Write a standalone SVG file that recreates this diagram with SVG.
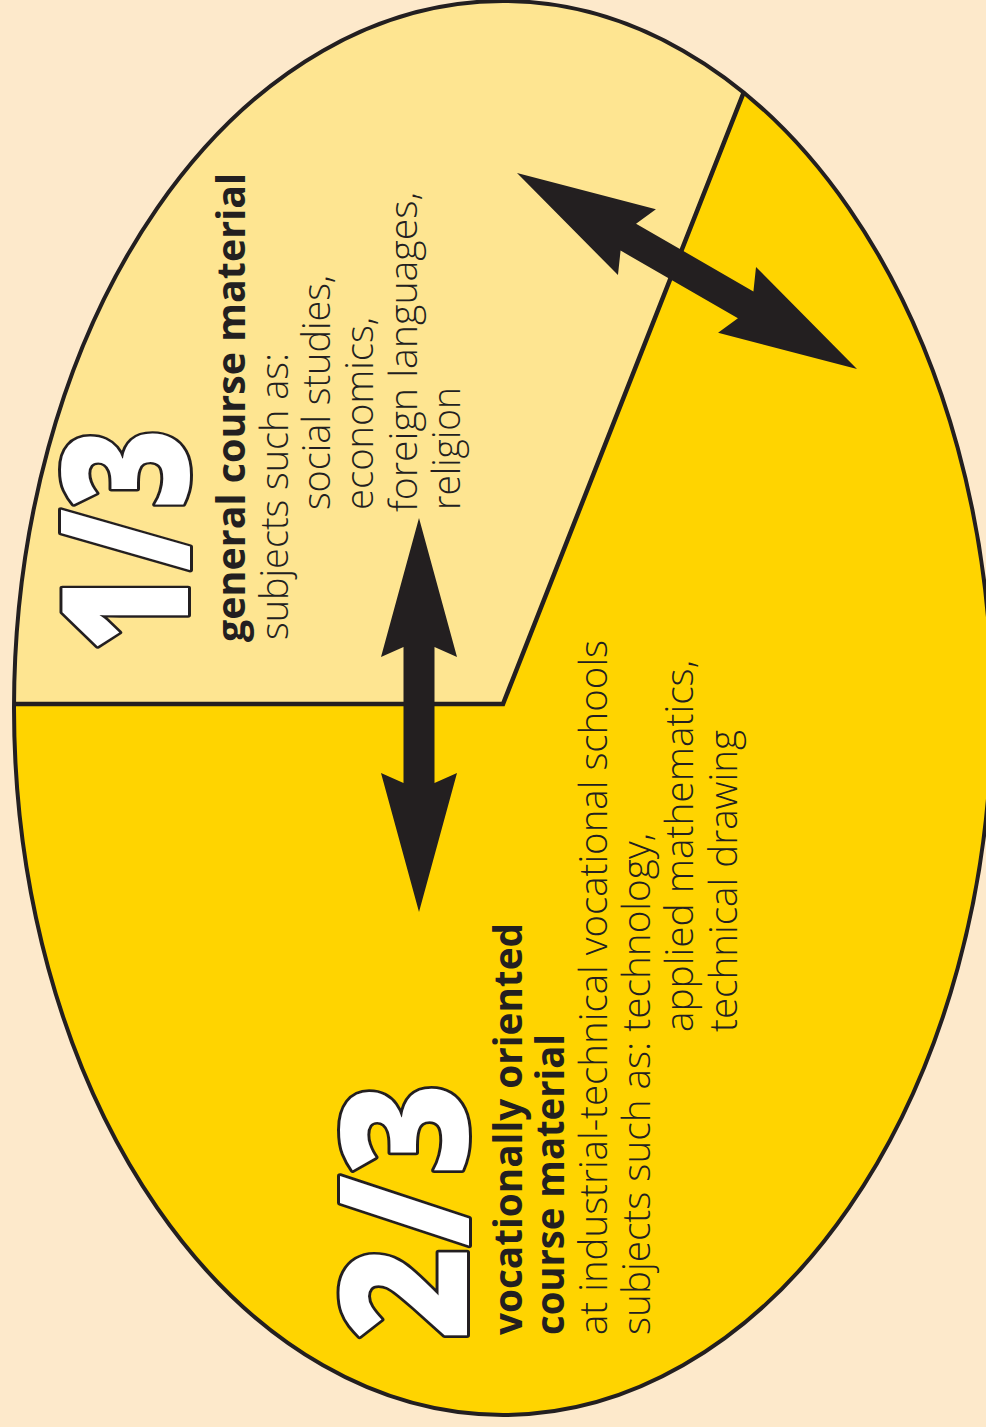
<svg xmlns="http://www.w3.org/2000/svg" width="986" height="1427" viewBox="0 0 986 1427">
<style>
.t{font-family:"Open Sans","Liberation Sans",sans-serif;fill:#231F20;font-size:39px;font-weight:300}
.b{font-weight:700}
.big{font-family:"Open Sans","DejaVu Sans",sans-serif;font-weight:800;font-size:176px;fill:#FFFFFF;stroke:#231F20;stroke-width:6;paint-order:stroke;stroke-linejoin:round}
.arrow{fill:#231F20}
</style>
<defs>
<clipPath id="ell"><ellipse cx="503" cy="708" rx="489" ry="707"/></clipPath>
<polygon id="dbl" points="0,0 139,-38 129,-15.5 265,-15.5 255,-38 394,0 255,38 265,15.5 129,15.5 139,38"/>
</defs>
<rect x="0" y="0" width="986" height="1427" fill="#FDE9CB"/>
<g id="pie">
<ellipse cx="503" cy="708" rx="489" ry="707" fill="#FFD400"/>
<polygon points="0,704 503,704 784,-10 0,-10" fill="#FEE591" clip-path="url(#ell)"/>
<polyline points="0,704 503,704 784,-10" fill="none" stroke="#231F20" stroke-width="4.5" stroke-linejoin="miter" clip-path="url(#ell)"/>
<ellipse cx="503" cy="708" rx="489" ry="707" fill="none" stroke="#231F20" stroke-width="4"/>
</g>
<g id="general">
<text class="big" transform="translate(188,652) rotate(-90)" textLength="224" lengthAdjust="spacingAndGlyphs">1/3</text>
<text class="t b" transform="translate(245,642) rotate(-90)" textLength="469" lengthAdjust="spacingAndGlyphs">general course material</text>
<text class="t" transform="translate(288,640) rotate(-90)" textLength="287" lengthAdjust="spacingAndGlyphs">subjects such as:</text>
<text class="t" transform="translate(330,510) rotate(-90)" textLength="235" lengthAdjust="spacingAndGlyphs">social studies,</text>
<text class="t" transform="translate(373,510) rotate(-90)" textLength="193" lengthAdjust="spacingAndGlyphs">economics,</text>
<text class="t" transform="translate(417,512) rotate(-90)" textLength="320" lengthAdjust="spacingAndGlyphs">foreign languages,</text>
<text class="t" transform="translate(460,510) rotate(-90)" textLength="123" lengthAdjust="spacingAndGlyphs">religion</text>
</g>
<g id="vocational">
<text class="big" transform="translate(467,1340) rotate(-90)" textLength="258" lengthAdjust="spacingAndGlyphs">2/3</text>
<text class="t b" transform="translate(522,1335) rotate(-90)" textLength="412" lengthAdjust="spacingAndGlyphs">vocationally oriented</text>
<text class="t b" transform="translate(564,1335) rotate(-90)" textLength="301" lengthAdjust="spacingAndGlyphs">course material</text>
<text class="t" transform="translate(607,1335) rotate(-90)" textLength="695" lengthAdjust="spacingAndGlyphs">at industrial-technical vocational schools</text>
<text class="t" transform="translate(650,1335) rotate(-90)" textLength="502" lengthAdjust="spacingAndGlyphs">subjects such as: technology,</text>
<text class="t" transform="translate(693,1032) rotate(-90)" textLength="372" lengthAdjust="spacingAndGlyphs">applied mathematics,</text>
<text class="t" transform="translate(737,1032) rotate(-90)" textLength="302" lengthAdjust="spacingAndGlyphs">technical drawing</text>
</g>
<g id="connectors">
<use href="#dbl" class="arrow" transform="translate(419,518) rotate(90)"/>
<use href="#dbl" class="arrow" transform="translate(517,173) rotate(29.96) scale(0.996,1)"/>
</g>
</svg>
